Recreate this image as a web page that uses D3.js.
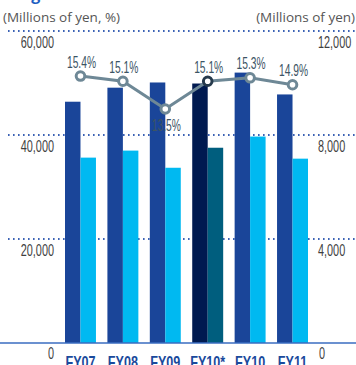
<!DOCTYPE html>
<html>
<head>
<meta charset="utf-8">
<script src="https://cdn.jsdelivr.net/npm/d3@7"></script>
<style>
  html, body { margin: 0; padding: 0; background: #fff; }
  svg { display: block; }
</style>
</head>
<body>
<script>
// Fiscal years and series
const categories = ["FY07", "FY08", "FY09", "FY10*", "FY10", "FY11"];
const netSales = [46400, 49100, 50100, 49900, 52000, 47800];      // left axis, millions of yen
const operatingIncome = [7130, 7400, 6740, 7510, 7940, 7090];     // right axis, millions of yen
const margin = [15.4, 15.1, 13.5, 15.1, 15.3, 14.9];              // %
const leftTicks = [20000, 40000, 60000];
const rightTicks = [4000, 8000, 12000];
const highlighted = "FY10*";

const W = 356, H = 365;
const svg = d3.select("body").append("svg").attr("width", W).attr("height", H);

const yTop = 31, yBase = 343;
const yLeft = d3.scaleLinear().domain([0, 60000]).range([yBase, yTop]);
const yRight = d3.scaleLinear().domain([0, 12000]).range([yBase, yTop]);
const yPct = d3.scaleLinear().domain([0, 18]).range([yBase, yTop]);
const x = d3.scaleBand().domain(categories).range([65, 308]).paddingInner(0.27).paddingOuter(0);
const half = x.bandwidth() / 2;

const numFont = "'Liberation Sans', Arial, sans-serif";

// Squeeze text horizontally to get a condensed face
function condense(sel, k) {
  sel.each(function () {
    const w = this.getComputedTextLength();
    d3.select(this).attr("textLength", w * k).attr("lengthAdjust", "spacingAndGlyphs");
  });
}

// Title (clipped at the top edge)
svg.append("text").attr("x", 13).attr("y", 0)
  .attr("font-family", "'Open Sans', sans-serif").attr("font-weight", 700)
  .attr("font-size", 16).attr("fill", "#1f5fc2").text("Segments");

// Unit headers
svg.append("text").attr("x", 3).attr("y", 22)
  .attr("font-family", "'Open Sans', sans-serif").attr("font-size", 13.5)
  .attr("fill", "#555").text("(Millions of yen, %)");
svg.append("text").attr("x", 355).attr("y", 22).attr("text-anchor", "end")
  .attr("font-family", "'Open Sans', sans-serif").attr("font-size", 13.5)
  .attr("fill", "#555").text("(Millions of yen)");

// Dotted gridlines
svg.append("g").selectAll("line").data(leftTicks).join("line")
  .attr("x1", 8).attr("x2", W)
  .attr("y1", d => yLeft(d)).attr("y2", d => yLeft(d))
  .attr("stroke", "#3b62b5").attr("stroke-width", 2)
  .attr("stroke-dasharray", "1.6,3.4");

// Left axis labels
const leftAxis = d3.axisLeft(yLeft).tickValues([0, ...leftTicks]).tickSize(0).tickFormat(d3.format(","));
const gl = svg.append("g").attr("transform", "translate(54,0)").call(leftAxis);
gl.select(".domain").remove();
gl.selectAll("text").attr("x", 0).attr("dy", null)
  .attr("y", d => d === 0 ? 15 : 16.5)
  .attr("font-family", numFont).attr("font-size", 16).attr("fill", "#3f3f3f")
  .call(condense, 0.68);

// Right axis labels
const rightAxis = d3.axisRight(yRight).tickValues([0, ...rightTicks]).tickSize(0).tickFormat(d3.format(","));
const gr = svg.append("g").attr("transform", "translate(318,0)").call(rightAxis);
gr.select(".domain").remove();
gr.selectAll("text").attr("x", d => d === 0 ? 1 : 0).attr("dy", null)
  .attr("y", d => d === 0 ? 15 : 16.5)
  .attr("font-family", numFont).attr("font-size", 16).attr("fill", "#3f3f3f")
  .call(condense, 0.68);

// Bars
const groups = svg.append("g").selectAll("g").data(categories).join("g")
  .attr("transform", d => `translate(${x(d)},0)`);
groups.append("rect")
  .attr("x", 0).attr("width", half)
  .attr("y", (d, i) => yLeft(netSales[i]))
  .attr("height", (d, i) => yBase - yLeft(netSales[i]))
  .attr("fill", d => d === highlighted ? "#001a50" : "#1a4599");
groups.append("rect")
  .attr("x", half).attr("width", half)
  .attr("y", (d, i) => yRight(operatingIncome[i]))
  .attr("height", (d, i) => yBase - yRight(operatingIncome[i]))
  .attr("fill", d => d === highlighted ? "#005e7e" : "#00b9f1");

// Baseline
svg.append("line").attr("x1", 0).attr("x2", W).attr("y1", yBase).attr("y2", yBase)
  .attr("stroke", "#3a6cc0").attr("stroke-width", 1.5);

// Category labels
const xAxis = d3.axisBottom(x).tickSize(0);
const gx = svg.append("g").attr("transform", `translate(0,${yBase})`).call(xAxis);
gx.select(".domain").remove();
gx.selectAll("text").attr("y", 25).attr("dy", null)
  .attr("font-family", numFont).attr("font-weight", 700)
  .attr("font-size", 17).attr("fill", "#1a4a9c")
  .call(condense, 0.74);

// Margin line
const pts = categories.map((c, i) => ({ c, v: margin[i], x: x(c) + half, y: yPct(margin[i]) }));
svg.append("path").datum(pts)
  .attr("d", d3.line().x(d => d.x).y(d => d.y))
  .attr("fill", "none").attr("stroke", "#6e8896").attr("stroke-width", 3);
svg.append("g").selectAll("circle").data(pts).join("circle")
  .attr("cx", d => d.x).attr("cy", d => d.y).attr("r", 4.3)
  .attr("fill", "#fff")
  .attr("stroke", d => d.c === highlighted ? "#263a4c" : "#6e8896")
  .attr("stroke-width", 3);

// Margin labels
svg.append("g").selectAll("text").data(pts).join("text")
  .attr("x", d => d.x + 1)
  .attr("y", (d, i) => (i > 0 && i < pts.length - 1 && d.v < pts[i - 1].v && d.v < pts[i + 1].v) ? d.y + 22 : d.y - 8.5)
  .attr("text-anchor", "middle")
  .attr("font-family", numFont).attr("font-size", 16).attr("fill", "#3c5464")
  .text(d => d3.format(".1f")(d.v) + "%")
  .call(condense, 0.64);
</script>
</body>
</html>
